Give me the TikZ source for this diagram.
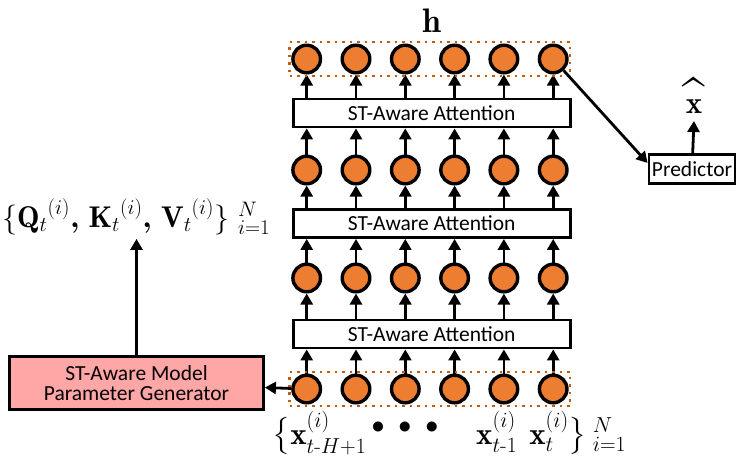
\RequirePackage{fix-cm}
\documentclass[tikz,border=0pt]{standalone}
\usepackage{amsmath,amssymb}
\usepackage{graphicx}
\usepackage{fontspec}
\newfontfamily\carlito{Carlito}
\usepackage{tikz}
\usetikzlibrary{arrows.meta}
\usetikzlibrary{positioning,fit}
\definecolor{unitorange}{HTML}{ED7D31}
\definecolor{dotorange}{HTML}{C55A11}
\definecolor{genpink}{HTML}{FFA6A6}

\begin{document}
\begin{tikzpicture}[x=1pt,y=-1pt,
  unit/.style={circle,draw,fill=unitorange,line width=3.4pt,minimum size=27.6pt,inner sep=0pt},
  attbox/.style={draw,line width=2.8pt,minimum width=277pt,minimum height=28pt,inner sep=0pt,font=\carlito\fontsize{21.5}{21}\selectfont},
  dotbox/.style={draw=dotorange,line width=2.5pt,dash pattern=on 2.5pt off 5pt,inner sep=1.5pt},
  arr/.style={-{Triangle[length=11pt,width=12pt]},line width=2.8pt},
  txt/.style={font=\carlito\fontsize{21.5}{20}\selectfont},
]
\useasboundingbox (0,0) rectangle (746,467);
% rows of units, bottom (1) to top (4)
\foreach \r/\y in {1/389,2/278,3/170,4/59}
  \foreach \k in {1,...,6}
    \node[unit] (c\r\k) at ({306.7+49.3*(\k-1)},\y) {};
\foreach \a/\y in {1/334,2/223.5,3/113}
  \node[attbox] (att\a) at (431.7,\y) {ST-Aware Attention};
\foreach \a [evaluate=\a as \n using int(\a+1)] in {1,2,3}
  \foreach \k in {1,...,6}{
    \draw[arr] (c\a\k) -- (c\a\k |- att\a.south);
    \draw[arr] (c\a\k |- att\a.north) -- (c\n\k);
  }
\node[dotbox,fit=(c11)(c16)] (inbox) {};
\node[dotbox,fit=(c41)(c46)] (hbox) {};
\node[font=\fontsize{34}{34}\selectfont,anchor=base,inner sep=0pt] (hlab) at (432,32) {$\mathbf{h}$};
% predictor
\node[draw,line width=2.8pt,txt,minimum width=86pt,minimum height=29pt,inner sep=0pt] (pred) at (692,169) {Predictor};
\node[font=\fontsize{31}{31}\selectfont,anchor=base,inner sep=0pt] (xhat) at (694,113) {\ooalign{$\mathbf{x}$\cr\hidewidth\raisebox{-5pt}{\scalebox{1.3}[1.8]{\bfseries\textasciicircum}}\hidewidth\cr}};
\draw[arr] (c46) -- ([yshift=6pt]pred.west);
\draw[arr] (pred) -- ([yshift=-8pt]xhat.base);
% parameter generator
\node[draw,line width=2.8pt,fill=genpink,txt,align=center,minimum width=254pt,minimum height=53pt,inner sep=0pt] (gen) at (136.5,383) {ST-Aware Model\\Parameter Generator};
\node[font=\fontsize{30}{30}\selectfont,anchor=base west,inner sep=0pt] (qkv) at (2,227) {$\{{\mathbf{Q}_t}^{(i)}\boldsymbol{,}\ {\mathbf{K}_t}^{(i)}\boldsymbol{,}\ {\mathbf{V}_t}^{(i)}\}\hspace{9pt}{}_{i=1}^{N}$};
\draw[arr] (c11) -- (gen);
\draw[arr] (gen.north) -- ([yshift=-4pt]gen.north |- qkv.south);
% input sequence
\node[font=\fontsize{31}{31}\selectfont,anchor=base west,inner sep=0pt] (xfirst) at (272,444) {$\big\{\mathbf{x}_{t\text{-}H+1}^{(i)}$};
\node[font=\fontsize{26}{26}\selectfont] (xdots) at (405,428) {${\bullet}\hspace{14pt}{\bullet}\hspace{14pt}{\bullet}$};
\node[font=\fontsize{31}{31}\selectfont,anchor=base west,inner sep=0pt] (xlast) at (476,444) {$\mathbf{x}_{t\text{-}1}^{(i)}\hspace{12pt}\mathbf{x}_{t}^{(i)}\big\}\hspace{6pt}{}_{i=1}^{N}$};
\end{tikzpicture}
\end{document}
